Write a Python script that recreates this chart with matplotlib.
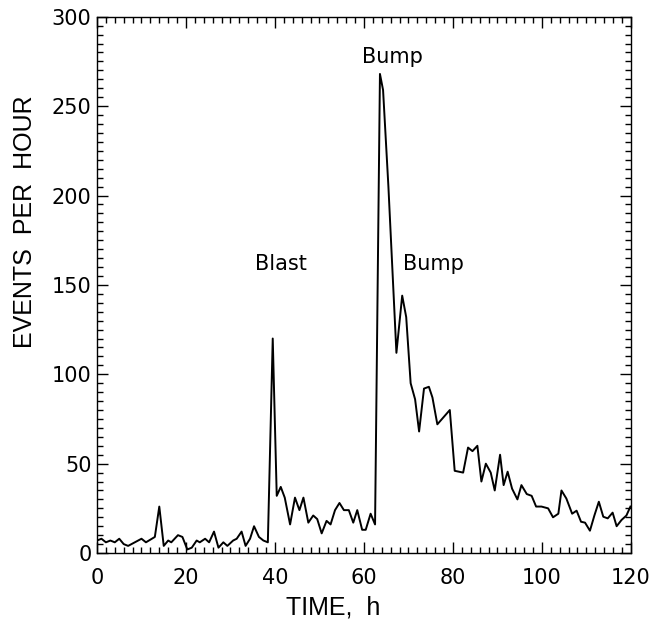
import numpy as np
import matplotlib
matplotlib.use("Agg")
import matplotlib.pyplot as plt
from matplotlib.ticker import MultipleLocator

# values (time in h, events per hour)
time_h = [0, 1, 2, 3, 4, 5, 6, 7, 8.5, 10, 11, 13, 14, 15, 16, 16.7, 18.2, 19.2,
          20.3, 21.3, 22.4, 23.1, 24.3, 25.2, 26.3, 27.3, 28.4, 29.3, 30.6, 31.4,
          32.5, 33.4, 34.4, 35.3, 36.4, 37.4, 38.4, 39.5, 40.4, 41.3, 42.2, 43.4,
          44.5, 45.5, 46.4, 47.5, 48.6, 49.5, 50.5, 51.6, 52.5, 53.5, 54.5, 55.5,
          56.6, 57.6, 58.5, 59.6, 60.4, 61.5, 62.5, 63.6, 64.3, 65.5, 67.3, 68.6,
          69.5, 70.5, 71.5, 72.4, 73.5, 74.6, 75.4, 76.5, 79.3, 80.4, 82.3, 83.4,
          84.4, 85.5, 86.4, 87.4, 88.5, 89.4, 90.6, 91.4, 92.3, 93.3, 94.5, 95.4,
          96.6, 97.7, 98.7, 99.9, 101.4, 102.5, 103.7, 104.4, 105.5, 106.8, 107.8,
          108.8, 109.7, 110.8, 111.8, 112.8, 113.8, 114.8, 115.9, 116.8, 117.9,
          119.0, 119.9]
events = [7, 8, 6, 7, 6, 8, 5, 4, 6, 8, 6, 9, 26, 4, 7, 6, 10, 9,
          2, 3, 7, 6, 8, 6, 12, 3, 6, 4, 7, 8,
          12, 4, 8, 15, 9, 7, 6, 120, 32, 37, 31, 16,
          31, 24, 31, 17, 21, 19, 11, 18, 16, 24, 28, 24,
          24, 17, 24, 13, 13, 22, 16, 268, 259, 205, 112, 144,
          132, 95, 86, 68, 92, 93, 87, 72, 80, 46, 45, 59,
          57, 60, 40, 50, 45, 35, 55, 38, 45.5, 36, 30, 38,
          33, 32, 26, 26, 25, 20, 22, 35, 30.5, 22, 23.7,
          17.5, 17, 12.5, 21, 28.7, 20.3, 19.4, 22.6, 15, 18.5,
          21, 26]

labels = ["Blast", "Bump", "Bump"]
label_pos = [(41.3, 158.5), (66.5, 274), (75.6, 158.5)]

fig = plt.figure(figsize=(6.69, 6.2), dpi=100)
ax = fig.add_axes([0.145, 0.108, 0.798, 0.865])

ax.plot(time_h, events, color="black", lw=1.4)

ax.set_xlim(0, 120)
ax.set_ylim(0, 300)
ax.xaxis.set_major_locator(MultipleLocator(20))
ax.xaxis.set_minor_locator(MultipleLocator(2))
ax.yaxis.set_major_locator(MultipleLocator(50))
ax.yaxis.set_minor_locator(MultipleLocator(5))
ax.tick_params(which="both", direction="in", top=True, right=True, width=1)
ax.tick_params(which="major", length=8, labelsize=15)
ax.tick_params(which="minor", length=4)
ax.tick_params(axis="x", which="major", pad=11)
ax.tick_params(axis="y", which="major", pad=4)
for lab in ax.get_xticklabels() + ax.get_yticklabels():
    lab.set_family("DejaVu Sans")
for s in ax.spines.values():
    s.set_linewidth(1)

lab_font = ["Liberation Sans", "DejaVu Sans"]
fig.text(333 / 669, 1 - 615 / 620, "TIME,  h", fontsize=18, family=lab_font,
         ha="center", va="baseline")
fig.text(25 / 669, 1 - 222 / 620, "EVENTS  PER  HOUR", fontsize=18,
         family=lab_font, rotation=90, ha="center", va="center")

for txt, (x, y) in zip(labels, label_pos):
    ax.text(x, y, txt, fontsize=15, ha="center", va="baseline",
            family="DejaVu Sans")

fig.savefig("out.png", dpi=100)
